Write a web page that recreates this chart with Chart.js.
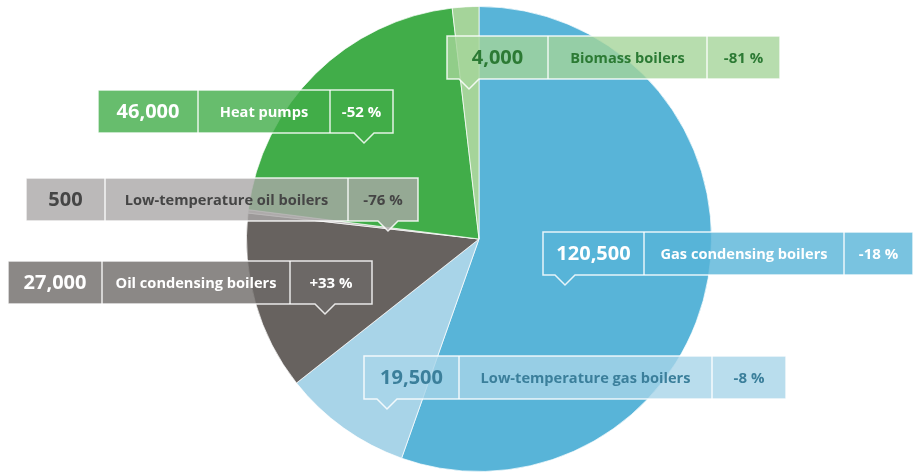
<!DOCTYPE html>
<html>
<head>
<meta charset="utf-8">
<script src="https://cdn.jsdelivr.net/npm/chart.js@4"></script>
<style>
  html, body { margin: 0; padding: 0; background: #fff; }
  #wrap { width: 913px; height: 475px; position: relative; }
</style>
</head>
<body>
<div id="wrap"><canvas id="boilers"></canvas></div>
<script>
// data, clockwise from 12 o'clock
const categories = ['Gas condensing boilers', 'Low-temperature gas boilers', 'Oil condensing boilers',
  'Low-temperature oil boilers', 'Heat pumps', 'Biomass boilers'];
const units = [120500, 19500, 27000, 500, 46000, 4000];
const changes = ['-18 %', '-8 %', '+33 %', '-76 %', '-52 %', '-81 %'];

const sliceColors = ['#58b4d8', '#a8d4e8', '#67625f', '#b8b5b4', '#41ad49', '#a5d49a'];
const boxColors = ['rgba(88,180,216,0.8)', 'rgba(168,212,232,0.8)', 'rgba(110,106,104,0.8)',
  'rgba(170,168,167,0.8)', 'rgba(65,173,73,0.8)', 'rgba(165,212,154,0.8)'];
const textColors = ['#ffffff', '#3b7f9b', '#ffffff', '#454545', '#ffffff', '#2c7a34'];

// where each callout box sits (left, top, cell widths, pointer x)
const calloutLayout = [
  { x: 543, y: 232, cells: [101, 200, 69], tip: 565 },
  { x: 364, y: 356, cells: [95, 253, 74], tip: 387 },
  { x: 8, y: 261, cells: [94, 188, 82], tip: 325 },
  { x: 26, y: 178, cells: [79, 243, 70], tip: 388 },
  { x: 98, y: 90, cells: [100, 132, 63], tip: 364 },
  { x: 447, y: 36, cells: [101, 159, 73], tip: 469 }
];
const boxHeight = 43;

function fmt(n) {
  return n.toLocaleString('en-US');
}

const calloutPlugin = {
  id: 'callouts',
  afterDraw(chart) {
    const ctx = chart.ctx;
    ctx.save();
    calloutLayout.forEach((b, i) => {
      const total = b.cells.reduce((a, c) => a + c, 0);
      const left = b.x, top = b.y, right = b.x + total, bottom = b.y + boxHeight;

      ctx.beginPath();
      ctx.moveTo(left, top);
      ctx.lineTo(right, top);
      ctx.lineTo(right, bottom);
      ctx.lineTo(b.tip + 10, bottom);
      ctx.lineTo(b.tip, bottom + 10);
      ctx.lineTo(b.tip - 10, bottom);
      ctx.lineTo(left, bottom);
      ctx.closePath();
      ctx.fillStyle = boxColors[i];
      ctx.fill();
      ctx.strokeStyle = 'rgba(255,255,255,0.85)';
      ctx.lineWidth = 1.5;
      ctx.stroke();

      // dividers
      let cx = left;
      for (let k = 0; k < 2; k++) {
        cx += b.cells[k];
        ctx.beginPath();
        ctx.moveTo(cx, top);
        ctx.lineTo(cx, bottom);
        ctx.stroke();
      }

      const texts = [fmt(units[i]), categories[i], changes[i]];
      const fonts = ['bold 20px "Open Sans"', 'bold 14.6px "Open Sans"', 'bold 15px "Open Sans"'];
      ctx.fillStyle = textColors[i];
      ctx.textAlign = 'center';
      ctx.textBaseline = 'middle';
      let x0 = left;
      texts.forEach((t, k) => {
        ctx.font = fonts[k];
        ctx.fillText(t, x0 + b.cells[k] / 2, top + boxHeight / 2 + 1);
        x0 += b.cells[k];
      });
    });
    ctx.restore();
  }
};

new Chart(document.getElementById('boilers'), {
  type: 'pie',
  data: {
    labels: categories,
    datasets: [{
      data: units,
      backgroundColor: sliceColors,
      borderColor: 'rgba(255,255,255,0.7)',
      borderWidth: 1
    }]
  },
  options: {
    responsive: true,
    maintainAspectRatio: false,
    animation: false,
    layout: { padding: { top: 6, bottom: 3, left: 246, right: 201 } },
    plugins: {
      legend: { display: false },
      tooltip: { enabled: false }
    }
  },
  plugins: [calloutPlugin]
});
</script>
</body>
</html>
